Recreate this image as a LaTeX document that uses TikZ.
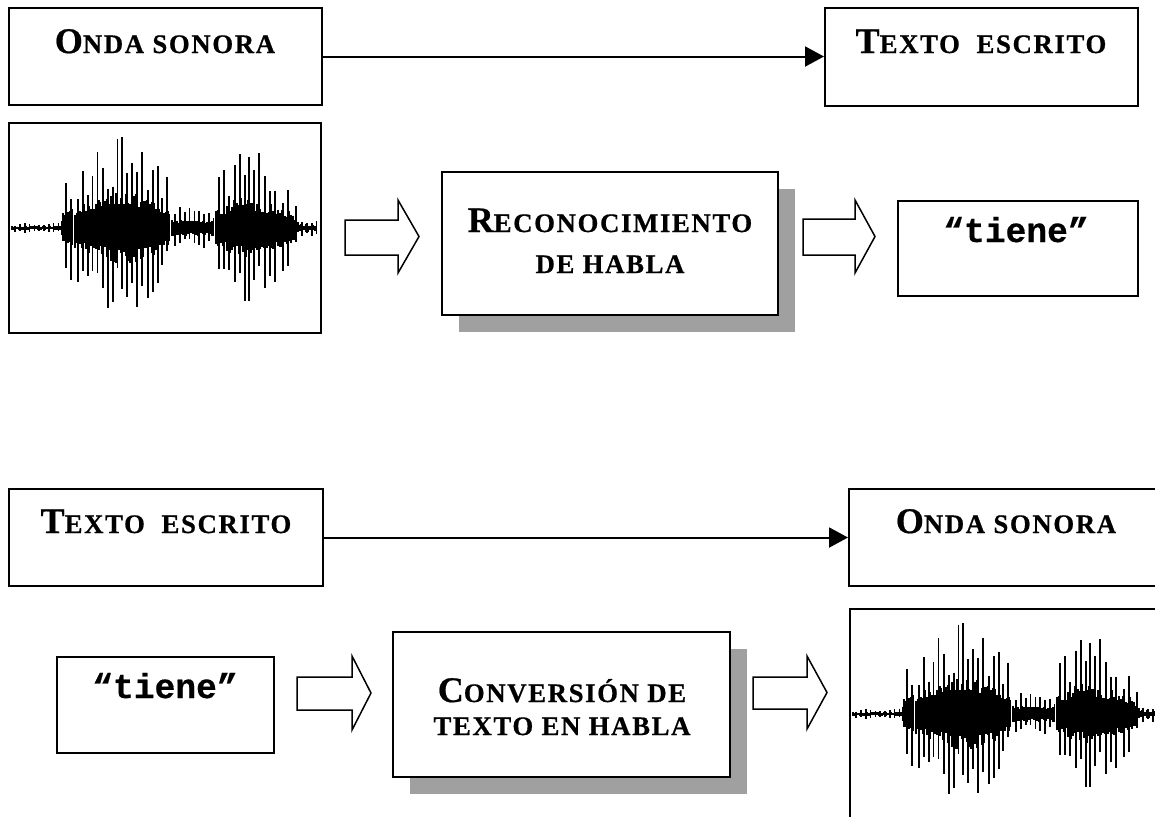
\documentclass[tikz,border=0pt]{standalone}
\usepackage{fontspec}
\setmainfont{Liberation Serif}
\newfontfamily\hdfont{Liberation Serif Bold}[LetterSpace=6, FakeBold=0.6]
\newfontfamily\cmono{Liberation Mono Bold}[FakeBold=0.5]
\usetikzlibrary{fit,arrows.meta}
\definecolor{shadowgray}{RGB}{160,160,160}
\newcommand\BigL[1]{{\fontsize{18}{20}\selectfont #1}}
\newcommand\drawwave[2]{%
  \pgfmathsetseed{11}%
  \foreach \xa/\aa/\xb/\ab in {3/5/51/6, 51/6/54/48, 54/48/66/58, 66/58/91/80, 91/80/110/95, 110/95/125/100, 125/100/136/85, 136/85/150/66, 150/66/159/50, 159/50/163/22, 163/22/203/22, 203/22/207/48, 207/48/223/72, 223/72/237/88, 237/88/253/72, 253/72/271/58, 271/58/284/40, 284/40/290/12, 290/12/309/7}{%
    \pgfmathsetmacro\xc{\xa+1.6}%
    \pgfmathsetmacro\xd{\xb-0.8}%
    \foreach \u [count=\k] in {\xa,\xc,...,\xd}{%
      \pgfmathsetmacro\amp{\aa+(\ab-\aa)*(\u-\xa)/(\xb-\xa)}%
      \pgfmathsetmacro\ra{rnd}%
      \pgfmathsetmacro\rb{rnd}%
      \pgfmathsetmacro\tall{mod(\k,3)==0 ? 1 : 0}%
      \pgfmathsetmacro\up{\amp*(\tall>0.5 ? 0.45+0.55*\ra : 0.22+0.16*\ra)}%
      \pgfmathsetmacro\dn{\amp*(\tall>0.5 ? 0.42+0.58*\rb : 0.22+0.16*\rb)}%
      \draw[wave] ({#1+\u},{#2-\up}) -- ({#1+\u},{#2+\dn});
    }%
  }%
}
\newcommand\blockarrow[7]{%
  \draw[blk] (#1,#4) -- (#2,#4) -- (#2,#6) -- (#3,{(#6+#7)/2}) -- (#2,#7) -- (#2,#5) -- (#1,#5) -- cycle;}
\begin{document}
\begin{tikzpicture}[x=0.5pt,y=-0.5pt,
  box/.style={draw, line width=1pt, fill=white, inner sep=0pt},
  blk/.style={draw, line width=0.75pt, fill=white, line join=miter},
  conn/.style={line width=1pt, -{Triangle[length=9.5pt,width=10pt]}},
  wave/.style={line width=0.85pt},
  hd/.style={font=\hdfont\fontsize{13.4}{15}\selectfont, inner sep=0pt, anchor=base},
  tt/.style={font=\cmono\fontsize{17.3}{20}\selectfont, inner sep=0pt, anchor=base}]
\useasboundingbox (0,0) rectangle (1155,816);
\fill[white] (0,0) rectangle (1155,816);
\clip (0,0) rectangle (1155,816);

% ---------- top half ----------
\node[box, fit={(9,8) (322,105)}] (ondaA) {};
\node[box, fit={(825,8) (1138,106)}] (textoA) {};
\node[hd] (ondaAt) at (165,53) {\BigL{O}NDA SONORA};
\node[hd] (textoAt) at (981,53) {\BigL{T}EXTO\ \ ESCRITO};
\draw[conn] (ondaA.east) -- (ondaA.east -| textoA.west);

\node[box, fit={(9,123) (321,333)}] (waveA) {};
\drawwave{9}{228}

\fill[shadowgray] (459,189) rectangle (795,332);
\node[box, fit={(442,172) (778,315)}] (reco) {};
\node[hd] (reco1) at (610,232) {\BigL{R}ECONOCIMIENTO};
\node[hd] (reco2) at (610,273) {DE HABLA};

\node[box, fit={(898,201) (1138,296)}] (tieneA) {};
\node[tt] (tieneAt) at (1016,242) {“tiene”};

\blockarrow{345}{398}{419}{220}{255}{200}{273}
\blockarrow{803}{855}{875}{219}{255}{200}{273}

% ---------- bottom half ----------
\node[box, fit={(9,489) (323,586)}] (textoB) {};
\node[box, fit={(849,489) (1162,586)}] (ondaB) {};
\node[hd] (textoBt) at (166,533) {\BigL{T}EXTO\ \ ESCRITO};
\node[hd] (ondaBt) at (1006,533) {\BigL{O}NDA SONORA};
\draw[conn] (textoB.east) -- (textoB.east -| ondaB.west);

\node[box, fit={(57,657) (274,753)}] (tieneB) {};
\node[tt] (tieneBt) at (165,698) {“tiene”};

\fill[shadowgray] (410,649) rectangle (747,794);
\node[box, fit={(393,632) (730,777)}] (conv) {};
\node[hd] (conv1) at (562,702) {\BigL{C}ONVERSIÓN DE};
\node[hd] (conv2) at (562,735) {TEXTO EN HABLA};

\node[box, fit={(850,609) (1162,819)}] (waveB) {};
\drawwave{850}{714}

\blockarrow{297}{352}{371}{677}{710}{656}{730}
\blockarrow{753}{807}{827}{677}{709}{656}{729}
\end{tikzpicture}
\end{document}
